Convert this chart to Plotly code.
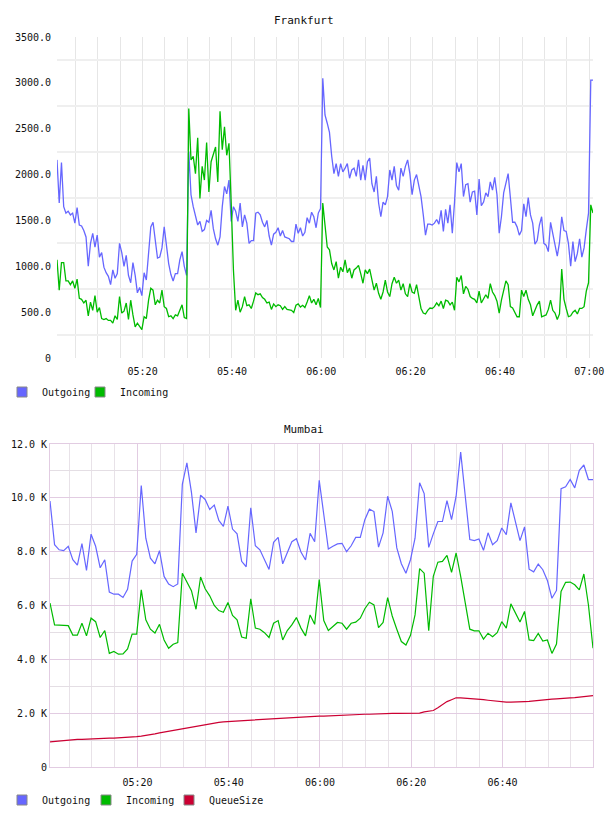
import pandas as pd
import plotly.graph_objects as go

# ---------------- data ----------------
fra_outgoing = [
    2160, 1690, 2130, 1650, 1580, 1600, 1560, 1580, 1470, 1640,
    1450, 1440, 1390, 1320, 1000, 1250, 1360, 1210, 1340, 1100,
    1150, 990, 930, 890, 800, 960, 870, 920, 1250, 1150,
    1000, 1120, 900, 820, 1040, 900, 710, 770, 680, 930,
    850, 1150, 1430, 1480, 1250, 1090, 1100, 1200, 1430, 1210,
    1030, 910, 840, 920, 920, 1070, 1160, 1000, 900, 2250,
    1780, 1650, 1560, 1450, 1490, 1380, 1400, 1500, 1480, 1610,
    1410, 1300, 1230, 1320, 1650, 1870, 1790, 1940, 1490, 1650,
    1600, 1490, 1690, 1430, 1560, 1470, 1250, 1280, 1280, 1580,
    1590, 1560, 1480, 1430, 1500, 1330, 1230, 1350, 1370, 1420,
    1330, 1390, 1320, 1310, 1300, 1270, 1270, 1460, 1360, 1420,
    1330, 1370, 1530, 1470, 1590, 1540, 1420, 1580, 1630, 3050,
    2650, 2560, 2460, 2200, 2010, 2120, 1980, 2120, 2030, 2070,
    2120, 1960, 2050, 2070, 1980, 2160, 1940, 2100, 1940, 2140,
    2180, 1900, 1810, 1980, 1690, 1540, 1700, 1670, 1760, 2050,
    1940, 2090, 1880, 1830, 2070, 1980, 2090, 2160, 2010, 1780,
    1940, 2000, 1880, 1760, 1560, 1340, 1460, 1460, 1450, 1470,
    1510, 1460, 1610, 1380, 1620, 1470, 1670, 1360, 1700, 2130,
    2030, 2120, 1760, 1890, 1900, 1700, 1810, 1820, 1560, 1950,
    1660, 1700, 1800, 1760, 1920, 1830, 1970, 1780, 1360, 1540,
    1800, 1900, 2010, 1750, 1480, 1480, 1430, 1340, 1390, 1680,
    1540, 1750, 1560, 1470, 1240, 1280, 1450, 1540, 1250, 1230,
    1160, 1480, 1360, 1210, 1110, 1260, 1540, 1390, 1380, 1250,
    1000, 1270, 1050, 1140, 1300, 1100, 1200, 1400, 1580, 3030, 3030,
]
fra_incoming = [
    1070, 740, 1040, 1040, 840, 840, 800, 840, 760, 860,
    650, 640, 600, 630, 460, 610, 520, 680, 500, 550,
    430, 420, 430, 410, 410, 380, 460, 420, 670, 490,
    510, 600, 420, 630, 470, 340, 380, 350, 310, 450,
    430, 630, 760, 740, 580, 630, 600, 740, 560, 540,
    450, 460, 430, 470, 460, 520, 580, 440, 430, 2720,
    2160, 2200, 2010, 2400, 1740, 2090, 1940, 2350, 1810, 2140,
    2230, 2300, 1920, 2690, 2270, 2520, 2210, 2340, 1690, 960,
    520, 630, 500, 560, 670, 570, 580, 540, 620, 710,
    690, 700, 660, 640, 600, 610, 530, 590, 560, 580,
    570, 530, 560, 530, 525, 520, 495, 575, 590, 555,
    575, 550, 610, 680, 600, 640, 580, 650, 550, 1690,
    1450, 1210, 1180, 1030, 960, 1050, 870, 990, 940, 1070,
    930, 980, 870, 960, 980, 1010, 920, 815, 960, 920,
    970, 870, 740, 815, 705, 640, 720, 850, 720, 670,
    810, 880, 815, 850, 740, 810, 700, 670, 810, 720,
    705, 800, 670, 540, 490, 480, 520, 545, 540, 560,
    600, 570, 620, 540, 630, 620, 580, 610, 520, 880,
    830, 900, 700, 780, 750, 670, 650, 640, 600, 730,
    600, 640, 690, 650, 810, 720, 680, 620, 490, 630,
    750, 840, 800, 560, 545, 500, 450, 450, 740, 670,
    740, 640, 580, 460, 530, 580, 620, 450, 460, 470,
    530, 630, 520, 490, 420, 480, 970, 640, 540, 450,
    460, 500, 520, 480, 540, 540, 560, 730, 820, 1670, 1580,
]

# Mumbai values in thousands (K)
mum_outgoing = [
    9.88, 8.26, 8.07, 8.04, 8.2, 7.7, 7.5, 8.3, 7.3, 8.65,
    8.2, 7.4, 7.7, 6.5, 6.42, 6.42, 6.3, 6.6, 7.65, 7.9,
    10.46, 8.5, 7.76, 7.55, 8.04, 7.08, 6.8, 6.7, 6.8, 10.5,
    11.3, 10.2, 8.7, 10.1, 9.94, 9.57, 9.73, 9.16, 8.94, 9.69,
    8.84, 8.66, 7.64, 7.44, 9.63, 8.22, 8.07, 7.73, 7.34, 8.35,
    8.53, 7.55, 7.99, 8.37, 8.48, 7.99, 7.69, 8.68, 8.37, 10.65,
    9.38, 8.1, 8.2, 8.29, 8.31, 8.0, 8.22, 8.53, 8.53, 9.19,
    9.58, 9.49, 8.17, 8.7, 10.06, 9.5, 8.14, 7.55, 7.2, 7.7,
    8.5, 10.56, 10.16, 8.16, 8.66, 9.12, 9.12, 9.9, 9.19, 10.06,
    11.7, 10.06, 8.45, 8.41, 8.47, 8.05, 8.7, 8.26, 8.41, 8.88,
    8.63, 9.81, 9.07, 8.41, 8.92, 7.35, 7.25, 7.54, 7.33, 6.93,
    6.27, 6.56, 10.34, 10.41, 10.68, 10.37, 11.02, 11.22, 10.68, 10.68,
]
mum_incoming = [
    6.09, 5.28, 5.27, 5.25, 5.25, 4.9, 4.9, 5.34, 4.87, 5.53,
    5.4, 4.81, 5.07, 4.22, 4.29, 4.19, 4.2, 4.39, 4.94, 4.94,
    6.58, 5.47, 5.12, 4.98, 5.3, 4.72, 4.41, 4.56, 4.62, 7.2,
    6.89, 6.55, 5.86, 7.06, 6.62, 6.36, 6.0, 5.81, 5.75, 6.11,
    5.63, 5.47, 4.83, 4.78, 6.25, 5.16, 5.12, 4.99, 4.81, 5.34,
    5.44, 4.72, 5.07, 5.28, 5.55, 5.16, 4.87, 5.65, 5.3, 6.96,
    5.44, 5.07, 5.22, 5.37, 5.34, 5.12, 5.34, 5.38, 5.53, 5.88,
    6.12, 6.02, 5.18, 5.37, 6.29, 5.61, 5.12, 4.66, 4.53, 4.89,
    5.65, 7.37, 7.2, 5.06, 7.08, 7.61, 7.64, 7.86, 7.23, 7.95,
    7.08, 6.09, 5.12, 5.06, 5.06, 4.75, 4.97, 4.84, 4.99, 5.4,
    5.16, 6.06, 5.71, 5.39, 5.78, 4.72, 4.7, 4.96, 4.68, 4.72,
    4.22, 4.57, 6.52, 6.86, 6.87, 6.77, 6.58, 7.17, 6.02, 4.41,
]
mum_queue = [
    0.93, 0.95, 0.97, 0.99, 1.01, 1.02, 1.03, 1.03, 1.04, 1.04,
    1.05, 1.06, 1.06, 1.07, 1.07, 1.08, 1.08, 1.09, 1.11, 1.13,
    1.15, 1.17, 1.2, 1.23, 1.27, 1.3, 1.34, 1.37, 1.4, 1.44,
    1.46, 1.48, 1.52, 1.56, 1.59, 1.62, 1.64, 1.66, 1.68, 1.69,
    1.7, 1.71, 1.73, 1.74, 1.76, 1.77, 1.78, 1.79, 1.8, 1.81,
    1.82, 1.82, 1.83, 1.84, 1.85, 1.85, 1.86, 1.87, 1.88, 1.89,
    1.89, 1.9, 1.9, 1.91, 1.91, 1.92, 1.93, 1.94, 1.95, 1.96,
    1.96, 1.97, 1.97, 1.98, 1.98, 1.99, 1.99, 1.99, 1.98, 1.98,
    1.98, 2.0, 2.05, 2.08, 2.1, 2.2, 2.33, 2.43, 2.5, 2.57,
    2.57, 2.56, 2.55, 2.53, 2.51, 2.5, 2.48, 2.46, 2.44, 2.42,
    2.41, 2.41, 2.41, 2.42, 2.43, 2.44, 2.46, 2.47, 2.49, 2.5,
    2.52, 2.53, 2.55, 2.56, 2.57, 2.58, 2.6, 2.62, 2.64, 2.65,
]

fra_yticks = [0, 500, 1000, 1500, 2000, 2500, 3000, 3500]
fra_yticktext = ["0", "500.0", "1000.0", "1500.0", "2000.0", "2500.0", "3000.0", "3500.0"]
fra_xticks = ["05:20", "05:40", "06:00", "06:20", "06:40", "07:00"]
mum_yticks = [0, 2, 4, 6, 8, 10, 12]
mum_yticktext = ["0", "2.0 K", "4.0 K", "6.0 K", "8.0 K", "10.0 K", "12.0 K"]
mum_xticks = ["05:20", "05:40", "06:00", "06:20", "06:40"]

DAY = "2013-06-01 "
fra_time = pd.date_range(DAY + "05:00:50", periods=len(fra_outgoing), freq="30s")
mum_time = pd.date_range(DAY + "05:00:50", periods=len(mum_outgoing), freq="60s")

# ---------------- style ----------------
W, H = 608, 816
FONT = "DejaVu Sans Mono"
C_OUT, C_IN, C_Q = "#6666FF", "#00BB00", "#CC0033"
PINK = "#E2CCE2"
GRAY_V = "#E6E6E6"
GRAY_H = "#EFEFEF"


def px_x(a, b):
    return [a / W, b / W]


def px_y(top, bottom):
    return [1 - bottom / H, 1 - top / H]


fig = go.Figure()

# Frankfurt lines
fig.add_trace(go.Scatter(x=fra_time, y=fra_outgoing, mode="lines",
                         line=dict(color=C_OUT, width=1.3), showlegend=False,
                         xaxis="x", yaxis="y"))
fig.add_trace(go.Scatter(x=fra_time, y=fra_incoming, mode="lines",
                         line=dict(color=C_IN, width=1.3), showlegend=False,
                         xaxis="x", yaxis="y"))
# Mumbai lines
fig.add_trace(go.Scatter(x=mum_time, y=mum_outgoing, mode="lines",
                         line=dict(color=C_OUT, width=1.2), showlegend=False,
                         xaxis="x2", yaxis="y2"))
fig.add_trace(go.Scatter(x=mum_time, y=mum_incoming, mode="lines",
                         line=dict(color=C_IN, width=1.2), showlegend=False,
                         xaxis="x2", yaxis="y2"))
fig.add_trace(go.Scatter(x=mum_time, y=mum_queue, mode="lines",
                         line=dict(color=C_Q, width=1.2), showlegend=False,
                         xaxis="x2", yaxis="y2"))

# legend entries (square swatches), one legend box per entry for exact placement
legend_items = [
    ("Outgoing", C_OUT, "legend", "x", "y", 2, 392),
    ("Incoming", C_IN, "legend2", "x", "y", 80, 392),
    ("Outgoing", C_OUT, "legend3", "x2", "y2", 2, 800),
    ("Incoming", C_IN, "legend4", "x2", "y2", 86, 800),
    ("QueueSize", C_Q, "legend5", "x2", "y2", 169, 800),
]
legend_layout = {}
for name, col, leg, xa, ya, lx, ly in legend_items:
    fig.add_trace(go.Scatter(x=[None], y=[None], mode="markers", name=name,
                             marker=dict(symbol="square", size=10, color=col,
                                         line=dict(color="#888888", width=1)),
                             legend=leg, xaxis=xa, yaxis=ya))
    legend_layout[leg] = dict(
        orientation="h", x=lx / W, xanchor="left", y=1 - ly / H, yanchor="middle",
        font=dict(family=FONT, size=10, color="#111111"),
        bgcolor="rgba(0,0,0,0)", itemwidth=30,
    )

tickfont = dict(family=FONT, size=10, color="#111111")

fig.update_layout(
    width=W, height=H, autosize=False,
    margin=dict(l=0, r=0, t=0, b=0, autoexpand=False),
    paper_bgcolor="white", plot_bgcolor="white",
    font=dict(family=FONT, size=10, color="#111111"),
    xaxis=dict(
        domain=px_x(57, 593), anchor="y", type="date", automargin=False,
        tickmode="array", tickvals=[DAY + t for t in fra_xticks], ticktext=fra_xticks,
        showgrid=True, gridcolor=GRAY_V, gridwidth=1,
        minor=dict(tick0=DAY + "05:00", dtick=300000, showgrid=True,
                   gridcolor=GRAY_V, gridwidth=1),
        showline=False, zeroline=False, ticks="", tickfont=tickfont,
        ticklabelstandoff=6, fixedrange=True,
    ),
    yaxis=dict(
        domain=px_y(37, 358), anchor="x", range=[0, 3500], automargin=False,
        tickmode="array", tickvals=fra_yticks, ticktext=fra_yticktext,
        showgrid=False,
        minor=dict(tickvals=[250, 750, 1250, 1750, 2250, 2750, 3250],
                   showgrid=True, gridcolor=GRAY_H, gridwidth=2),
        showline=False, zeroline=False, ticks="", tickfont=tickfont,
        ticklabelstandoff=5,
    ),
    xaxis2=dict(
        domain=px_x(50, 593), anchor="y2", type="date", automargin=False,
        tickmode="array", tickvals=[DAY + t for t in mum_xticks], ticktext=mum_xticks,
        showgrid=True, gridcolor=PINK, gridwidth=1,
        minor=dict(tick0=DAY + "05:00", dtick=300000, showgrid=True,
                   gridcolor="#E8E2E8", gridwidth=1),
        showline=True, mirror=True, linecolor=PINK, linewidth=1,
        zeroline=False, ticks="", tickfont=tickfont, ticklabelstandoff=6,
    ),
    yaxis2=dict(
        domain=px_y(444, 767), anchor="x2", range=[0, 12], automargin=False,
        tickmode="array", tickvals=mum_yticks, ticktext=mum_yticktext,
        showgrid=True, gridcolor=PINK, gridwidth=1,
        minor=dict(dtick=1, showgrid=True, gridcolor="#E4DEE4", gridwidth=1),
        showline=True, mirror=True, linecolor=PINK, linewidth=1,
        zeroline=False, ticks="", tickfont=tickfont, ticklabelstandoff=0,
    ),
    annotations=[
        dict(text="Frankfurt", x=0.5, y=1 - 20 / H, xref="paper", yref="paper",
             xanchor="center", yanchor="middle",
             showarrow=False, font=dict(family=FONT, size=11, color="#111111")),
        dict(text="Mumbai", x=0.5, y=1 - 429 / H, xref="paper", yref="paper",
             xanchor="center", yanchor="middle",
             showarrow=False, font=dict(family=FONT, size=11, color="#111111")),
    ],
    hovermode=False,
    **legend_layout,
)

fig.write_html("out.html")
